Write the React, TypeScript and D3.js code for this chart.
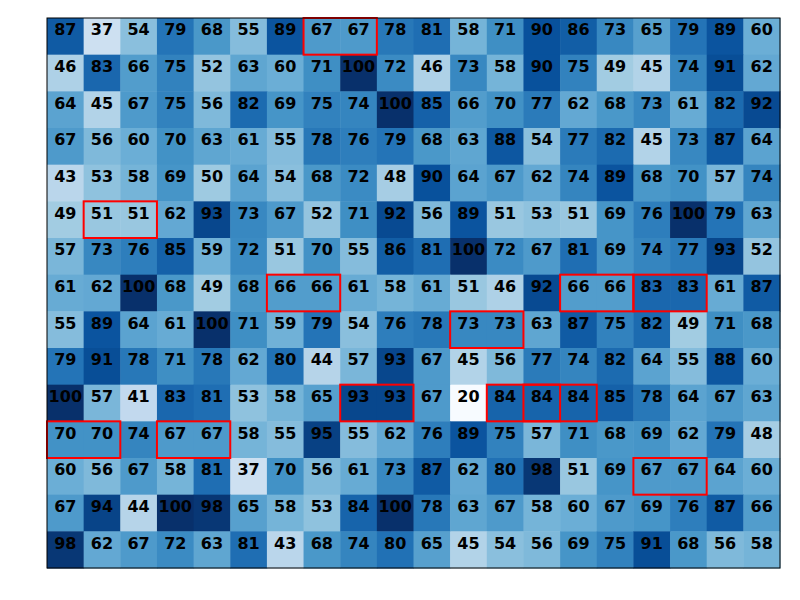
import React from "react";
import * as d3 from "d3";

const values: number[][] = [
  [87, 37, 54, 79, 68, 55, 89, 67, 67, 78, 81, 58, 71, 90, 86, 73, 65, 79, 89, 60],
  [46, 83, 66, 75, 52, 63, 60, 71, 100, 72, 46, 73, 58, 90, 75, 49, 45, 74, 91, 62],
  [64, 45, 67, 75, 56, 82, 69, 75, 74, 100, 85, 66, 70, 77, 62, 68, 73, 61, 82, 92],
  [67, 56, 60, 70, 63, 61, 55, 78, 76, 79, 68, 63, 88, 54, 77, 82, 45, 73, 87, 64],
  [43, 53, 58, 69, 50, 64, 54, 68, 72, 48, 90, 64, 67, 62, 74, 89, 68, 70, 57, 74],
  [49, 51, 51, 62, 93, 73, 67, 52, 71, 92, 56, 89, 51, 53, 51, 69, 76, 100, 79, 63],
  [57, 73, 76, 85, 59, 72, 51, 70, 55, 86, 81, 100, 72, 67, 81, 69, 74, 77, 93, 52],
  [61, 62, 100, 68, 49, 68, 66, 66, 61, 58, 61, 51, 46, 92, 66, 66, 83, 83, 61, 87],
  [55, 89, 64, 61, 100, 71, 59, 79, 54, 76, 78, 73, 73, 63, 87, 75, 82, 49, 71, 68],
  [79, 91, 78, 71, 78, 62, 80, 44, 57, 93, 67, 45, 56, 77, 74, 82, 64, 55, 88, 60],
  [100, 57, 41, 83, 81, 53, 58, 65, 93, 93, 67, 20, 84, 84, 84, 85, 78, 64, 67, 63],
  [70, 70, 74, 67, 67, 58, 55, 95, 55, 62, 76, 89, 75, 57, 71, 68, 69, 62, 79, 48],
  [60, 56, 67, 58, 81, 37, 70, 56, 61, 73, 87, 62, 80, 98, 51, 69, 67, 67, 64, 60],
  [67, 94, 44, 100, 98, 65, 58, 53, 84, 100, 78, 63, 67, 58, 60, 67, 69, 76, 87, 66],
  [98, 62, 67, 72, 63, 81, 43, 68, 74, 80, 65, 45, 54, 56, 69, 75, 91, 68, 56, 58],
];

// [row, startCol] of highlighted horizontal pairs
const highlights: [number, number][] = [
  [0, 7],
  [5, 1],
  [7, 6], [7, 14], [7, 16],
  [8, 11],
  [10, 8], [10, 12], [10, 13],
  [11, 0], [11, 3],
  [12, 16],
];

const bluesStops = ["#f7fbff", "#deebf7", "#c6dbef", "#9ecae1", "#6baed6", "#4292c6", "#2171b5", "#08519c", "#08306b"];
const vmin = 20;
const vmax = 100;

export default function App() {
  const W = 800, H = 600;
  const left = 47, right = 780, top = 18, bottom = 568;
  const nRows = values.length;
  const nCols = values[0].length;
  const x = d3.scaleBand<number>().domain(d3.range(nCols)).range([left, right]).padding(0);
  const y = d3.scaleBand<number>().domain(d3.range(nRows)).range([top, bottom]).padding(0);
  const color = d3
    .scaleLinear<string>()
    .domain(bluesStops.map((_, i) => vmin + ((vmax - vmin) * i) / (bluesStops.length - 1)))
    .range(bluesStops)
    .interpolate(d3.interpolateRgb)
    .clamp(true);

  return (
    <svg width={W} height={H} style={{ display: "block", position: "absolute", left: 0, top: 0 }}>
      <rect x={0} y={0} width={W} height={H} fill="#ffffff" />
      {values.map((row, r) =>
        row.map((v, c) => (
          <rect
            key={`c${r}-${c}`}
            x={x(c)!}
            y={y(r)!}
            width={x.bandwidth() + 0.5}
            height={y.bandwidth() + 0.5}
            fill={color(v)}
          />
        ))
      )}
      {values.map((row, r) =>
        row.map((v, c) => (
          <text
            key={`t${r}-${c}`}
            x={x(c)! + x.bandwidth() / 2}
            y={y(r)! + y.bandwidth() / 2 - 1}
            textAnchor="middle"
            fontFamily="DejaVu Sans"
            fontWeight="bold"
            fontSize={16}
            fill="#000000"
          >
            {v}
          </text>
        ))
      )}
      {highlights.map(([r, c], i) => (
        <rect
          key={`h${i}`}
          x={x(c)!}
          y={y(r)!}
          width={x.bandwidth() * 2}
          height={y.bandwidth()}
          fill="none"
          stroke="#ff0000"
          strokeWidth={2}
        />
      ))}
      <rect x={left} y={top} width={right - left} height={bottom - top} fill="none" stroke="#000000" strokeWidth={1} />
    </svg>
  );
}
